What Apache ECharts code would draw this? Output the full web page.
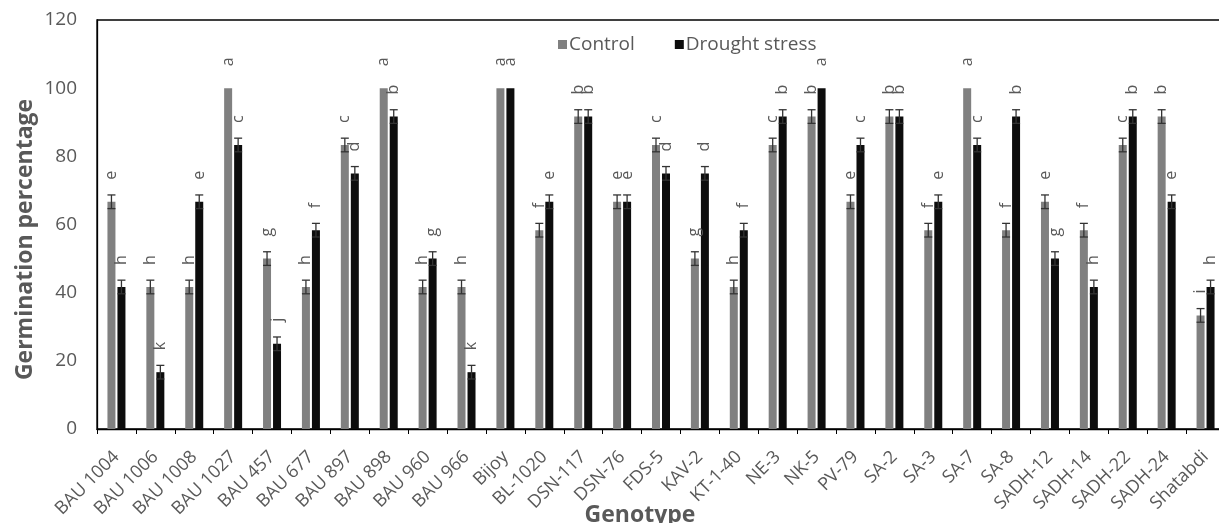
<!DOCTYPE html>
<html>
<head>
<meta charset="utf-8">
<script src="https://cdn.jsdelivr.net/npm/echarts@6/dist/echarts.min.js"></script>
<style>
html,body{margin:0;padding:0;background:#fff;overflow:hidden;}
#chart{width:1219px;height:523px;}
</style>
</head>
<body>
<div id="chart"></div>
<script>
const categories = ['BAU 1004','BAU 1006','BAU 1008','BAU 1027','BAU 457','BAU 677','BAU 897','BAU 898','BAU 960','BAU 966','Bijoy','BL-1020','DSN-117','DSN-76','FDS-5','KAV-2','KT-1-40','NE-3','NK-5','PV-79','SA-2','SA-3','SA-7','SA-8','SADH-12','SADH-14','SADH-22','SADH-24','Shatabdi'];
const controlVals = [66.67,41.67,41.67,100,50,41.67,83.33,100,41.67,41.67,100,58.33,91.67,66.67,83.33,50,41.67,83.33,91.67,66.67,91.67,58.33,100,58.33,66.67,58.33,83.33,91.67,33.33];
const droughtVals = [41.67,16.67,66.67,83.33,25,58.33,75,91.67,50,16.67,100,66.67,91.67,66.67,75,75,58.33,91.67,100,83.33,91.67,66.67,83.33,91.67,50,41.67,91.67,66.67,41.67];
const controlErr = [2,2,2,0,2,2,2,0,2,2,0,2,2,2,2,2,2,2,2,2,2,2,0,2,2,2,2,2,2];
const droughtErr = [2,2,2,2,2,2,2,2,2,2,0,2,2,2,2,2,2,2,0,2,2,2,2,2,2,2,2,2,2];
const controlLetters = ['e','h','h','a','g','h','c','a','h','h','a','f','b','e','c','g','h','c','b','e','b','f','a','f','e','f','c','b','i'];
const droughtLetters = ['h','k','e','c','j','f','d','b','g','k','a','e','b','e','d','d','f','b','a','c','b','e','c','b','g','h','b','e','h'];
const yTicks = [0,20,40,60,80,100,120];

const FONT = '"Open Sans", "Noto Sans", sans-serif';
const GREY = '#595959';
const BAR_W = 8, BAR_GAP = 2;

function errSeries(vals, errs, offset) {
  return {
    type: 'custom',
    z: 5,
    silent: true,
    data: vals.map((v, i) => [i, v, errs[i]]),
    renderItem: function (params, api) {
      const i = api.value(0), v = api.value(1), e = api.value(2);
      if (!e) return { type: 'group', children: [] };
      const hi = api.coord([i, v + e]);
      const lo = api.coord([i, v - e]);
      const x = hi[0] + offset;
      const cap = 4;
      const st = { stroke: '#333', lineWidth: 1.3 };
      return {
        type: 'group',
        children: [
          { type: 'line', shape: { x1: x, y1: hi[1], x2: x, y2: lo[1] }, style: st },
          { type: 'line', shape: { x1: x - cap, y1: hi[1], x2: x + cap, y2: hi[1] }, style: st },
          { type: 'line', shape: { x1: x - cap, y1: lo[1], x2: x + cap, y2: lo[1] }, style: st }
        ]
      };
    }
  };
}

function letterLabel(letters) {
  return {
    show: true,
    position: 'top',
    distance: 22,
    rotate: 90,
    align: 'left',
    verticalAlign: 'middle',
    color: GREY,
    fontFamily: FONT,
    fontSize: 16,
    formatter: p => letters[p.dataIndex]
  };
}

const chart = echarts.init(document.getElementById('chart'));
chart.setOption({
  animation: false,
  backgroundColor: '#fff',
  textStyle: { fontFamily: FONT },
  legend: {
    data: ['Control', 'Drought stress'],
    left: 553, top: 30,
    itemWidth: 9, itemHeight: 9, itemGap: 40,
    icon: 'rect',
    textStyle: { color: GREY, fontSize: 19, fontFamily: FONT, padding: [0, 0, 0, -3] }
  },
  grid: {
    left: 97, top: 20, width: 1128, height: 409,
    show: true, borderColor: '#000', borderWidth: 1.3,
    containLabel: false,
    outerBoundsMode: 'none'
  },
  xAxis: {
    type: 'category',
    data: categories,
    name: 'Genotype',
    nameLocation: 'middle',
    nameGap: 75,
    nameMoveOverlap: false,
    nameTextStyle: { color: GREY, fontSize: 23, fontWeight: 'bold', fontFamily: FONT, padding: [0, 42, 0, 0] },
    axisLine: { lineStyle: { color: '#000', width: 1.3 } },
    axisTick: { show: true, length: 5, lineStyle: { color: '#000' } },
    axisLabel: { interval: 0, rotate: 45, margin: 25, color: GREY, fontSize: 18, fontFamily: FONT }
  },
  yAxis: {
    type: 'value',
    min: 0, max: 120, interval: 20,
    name: 'Germination percentage',
    nameLocation: 'middle',
    nameGap: 60,
    nameRotate: 90,
    nameMoveOverlap: false,
    nameTextStyle: { color: GREY, fontSize: 23, fontWeight: 'bold', fontFamily: FONT, padding: [0, 0, 0, -30] },
    axisLine: { show: true, lineStyle: { color: '#000', width: 1.3 } },
    axisTick: { show: false },
    splitLine: { show: false },
    axisLabel: { color: GREY, fontSize: 19, fontFamily: FONT, margin: 20,
      formatter: v => yTicks.includes(v) ? String(v) : '' }
  },
  series: [
    {
      name: 'Control', type: 'bar', data: controlVals,
      barWidth: BAR_W, barGap: (BAR_GAP / BAR_W * 100) + '%',
      itemStyle: { color: '#808080' },
      label: letterLabel(controlLetters)
    },
    {
      name: 'Drought stress', type: 'bar', data: droughtVals,
      barWidth: BAR_W,
      itemStyle: { color: '#0d0d0d' },
      label: letterLabel(droughtLetters)
    },
    errSeries(controlVals, controlErr, -(BAR_W + BAR_GAP) / 2),
    errSeries(droughtVals, droughtErr, (BAR_W + BAR_GAP) / 2)
  ]
});
</script>
</body>
</html>
